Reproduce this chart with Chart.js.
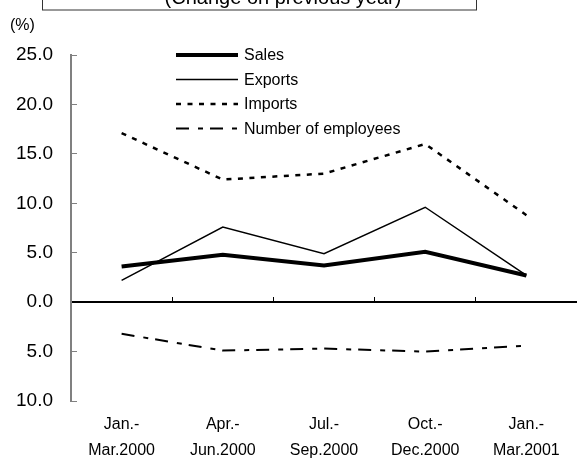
<!DOCTYPE html>
<html>
<head>
<meta charset="utf-8">
<script src="https://cdn.jsdelivr.net/npm/chart.js@4.4.1/dist/chart.umd.min.js"></script>
<style>
  html, body { margin: 0; padding: 0; background: #fff; }
  canvas { display: block; }
</style>
</head>
<body>
<canvas id="trendChart" width="577" height="459"></canvas>
<script>
// Quarterly change on previous year (%)
const quarters = [
    ['Jan.-', 'Mar.2000'],
    ['Apr.-', 'Jun.2000'],
    ['Jul.-', 'Sep.2000'],
    ['Oct.-', 'Dec.2000'],
    ['Jan.-', 'Mar.2001']
];
const salesChange = [3.6, 4.8, 3.7, 5.1, 2.7];
const exportsChange = [2.2, 7.6, 4.9, 9.6, 2.7];
const importsChange = [17.1, 12.4, 13.0, 16.0, 8.8];
const employeesChange = [-3.2, -4.9, -4.7, -5.0, -4.4];

const yMin = -10;
const yMax = 25;
const yStep = 5;

const FONT = '"Liberation Sans", Arial, sans-serif';

// boxed caption at the top and the unit label
const frameText = {
    id: 'frameText',
    beforeDraw(chart) {
        const ctx = chart.ctx;
        ctx.save();
        ctx.fillStyle = '#fff';
        ctx.fillRect(0, 0, chart.width, chart.height);
        ctx.strokeStyle = '#333';
        ctx.lineWidth = 1;
        ctx.strokeRect(42.5, -5, 434, 15);
        ctx.fillStyle = '#000';
        ctx.font = '20px ' + FONT;
        ctx.textAlign = 'center';
        ctx.fillText('(Change on previous year)', 283, 4);
        ctx.font = '16px ' + FONT;
        ctx.textAlign = 'left';
        ctx.fillText('(%)', 10, 30);
        ctx.restore();
    }
};

// line-sample legend drawn from the dataset styles
const lineKey = {
    id: 'lineKey',
    afterDraw(chart, args, opts) {
        const ctx = chart.ctx;
        chart.data.datasets.forEach((ds, i) => {
            const y = opts.top + i * opts.rowGap;
            ctx.save();
            ctx.strokeStyle = ds.borderColor;
            ctx.lineWidth = ds.borderWidth;
            ctx.setLineDash(ds.borderDash || []);
            ctx.beginPath();
            ctx.moveTo(opts.left, y);
            ctx.lineTo(opts.left + opts.lineLength, y);
            ctx.stroke();
            ctx.setLineDash([]);
            ctx.fillStyle = '#000';
            ctx.font = '16px ' + FONT;
            ctx.textBaseline = 'middle';
            ctx.fillText(ds.label, opts.left + opts.lineLength + 6, y + 1);
            ctx.restore();
        });
    }
};

const ctx = document.getElementById('trendChart').getContext('2d');
const trendChart = new Chart(ctx, {
    type: 'line',
    data: {
        labels: quarters,
        datasets: [{
            label: 'Sales',
            data: salesChange,
            borderColor: '#000',
            borderWidth: 4,
            borderJoinStyle: 'miter'
        }, {
            label: 'Exports',
            data: exportsChange,
            borderColor: '#000',
            borderWidth: 1.5
        }, {
            label: 'Imports',
            data: importsChange,
            borderColor: '#000',
            borderWidth: 2.5,
            borderDash: [5, 6.5]
        }, {
            label: 'Number of employees',
            data: employeesChange,
            borderColor: '#000',
            borderWidth: 2,
            borderDash: [13, 9, 5, 7]
        }]
    },
    options: {
        responsive: false,
        animation: false,
        layout: { padding: { top: 55, right: 0, left: 0, bottom: 0 } },
        elements: {
            point: { radius: 0, hoverRadius: 0 },
            line: { tension: 0, fill: false }
        },
        plugins: {
            legend: { display: false },
            tooltip: { enabled: false },
            lineKey: { left: 176, top: 55, rowGap: 24.5, lineLength: 62 }
        },
        scales: {
            x: {
                type: 'category',
                offset: true,
                grid: { display: false, drawTicks: false },
                border: { display: false },
                ticks: {
                    color: '#000',
                    padding: 10,
                    maxRotation: 0,
                    autoSkip: false,
                    font: { family: FONT, size: 16, lineHeight: 1.65 }
                },
                afterFit(scale) { scale.height = 58; }
            },
            // zero line with the category ticks pointing up
            x0: {
                type: 'category',
                axis: 'x',
                position: { y: 0 },
                offset: true,
                ticks: { display: false },
                border: { color: '#000', width: 2 },
                grid: {
                    offset: true,
                    drawOnChartArea: false,
                    tickLength: -6,
                    color: '#000',
                    lineWidth: 1
                },
                afterFit(scale) { scale.height = 0; }
            },
            y: {
                min: yMin,
                max: yMax,
                border: { color: '#808080', width: 2 },
                grid: {
                    drawOnChartArea: false,
                    tickLength: -6,
                    color: '#808080',
                    lineWidth: 1
                },
                ticks: {
                    stepSize: yStep,
                    color: '#000',
                    padding: 24,
                    font: { family: FONT, size: 19 },
                    callback: (v) => Math.abs(v).toFixed(1)
                },
                afterFit(scale) { scale.width = 71; }
            }
        }
    },
    plugins: [frameText, lineKey]
});
</script>
</body>
</html>
